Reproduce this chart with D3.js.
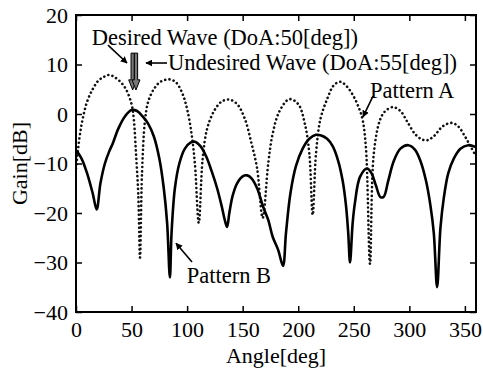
<!DOCTYPE html>
<html>
<head>
<meta charset="utf-8">
<script src="https://cdn.jsdelivr.net/npm/d3@7"></script>
<style>
    body { margin: 0; background: #fff; }
    svg { display: block; }
    text { font-family: "Liberation Serif", "Times New Roman", serif; fill: #000; }
</style>
</head>
<body>
<div id="chart"></div>
<script>
// Pattern A (dotted)
const patternAAngle = [0, 3, 6, 10, 15, 20, 25, 30, 35, 40, 45, 50, 52, 54, 56, 57.6, 59.4, 62, 65, 70, 76, 84, 90, 96,
    100, 104, 107, 110.5, 114, 118, 124, 131, 138, 145, 152, 158, 163, 168, 173, 177, 183, 192, 200, 206, 210, 213,
    216, 220, 226, 232, 238, 244, 250, 255, 258, 261, 264.6, 268, 273.6, 278, 285, 292, 298, 305, 311, 316, 322, 330,
    338, 344, 350, 355, 360];
const patternAGain = [-11, -5, -1, 2.5, 5, 6.7, 7.5, 7.9, 7.4, 6.5, 5, 2, -1, -8, -16, -29, -12, -1.5, 2.5, 5, 6.5, 7, 6.4, 4,
    1, -4, -10, -22, -9, -3, 0.5, 2.5, 2.9, 2, -1, -6, -11, -21, -10, -4, 0.5, 3, 2, -2, -8, -20.4,
    -8, -1, 3, 5.8, 6.5, 5.5, 3.5, 1, -1.2, -7, -30.3, -8, -1.2, 0.5, 1.4, 0.6, -1.5, -4, -5.1, -5.3, -4.5, -2.5,
    -1.8, -2.5, -4.5, -6.5, -8.5];

// Pattern B (solid)
const patternBAngle = [0, 5, 10, 15, 18.6, 22, 26, 30, 33, 38, 44, 50, 55, 60, 65, 70, 75, 79, 82, 84.5, 86, 89, 93, 98,
    103, 107, 112, 117, 122, 127, 131, 134, 136, 138, 141, 145, 150, 154, 158, 163, 168.5, 173, 177, 182, 186.3,
    189, 193, 198, 204, 210, 216, 220, 226, 231, 236, 240, 243, 245, 246.6, 249, 251, 255.6, 262, 266, 270, 274,
    277, 281, 286, 292, 299, 305, 310, 315, 319, 322, 325, 328, 331, 335, 340, 346, 353, 360];
const patternBGain = [-7.3, -9, -12, -16, -19.3, -14, -10, -7.5, -6, -3, -0.5, 0.8, 0.6, -0.5, -2, -4.5, -9, -15, -22, -33, -24, -15, -10, -7,
    -5.8, -5.6, -6.5, -8.5, -11.5, -15, -18.5, -21.5, -22.8, -20, -16.5, -14, -12.6, -12.4, -13, -15, -18.8, -21.4, -24.8, -27.5, -30.7,
    -24, -16, -10.5, -7, -5, -4.2, -4.3, -5, -6.5, -9.5, -13.5, -18.5, -24, -30, -22, -18, -12.7, -11, -12, -14.5, -16.8,
    -16.7, -13.5, -9.5, -7, -6.3, -7.2, -9.5, -13.5, -18.5, -24, -35, -23, -17, -12, -9, -7, -6.3, -6.7];

const xTicks = [0, 50, 100, 150, 200, 250, 300, 350];
const yTicks = [-40, -30, -20, -10, 0, 10, 20];

const width = 483;
const height = 372;
const margin = { top: 15, right: 7, bottom: 60, left: 76 };

const svg = d3.select('#chart')
    .append('svg')
    .attr('width', width)
    .attr('height', height);

const x = d3.scaleLinear().domain([0, 360]).range([margin.left, width - margin.right]);
const y = d3.scaleLinear().domain([-40, 20]).range([height - margin.bottom, margin.top]);

// clip so curves stay inside the frame
svg.append('defs').append('clipPath').attr('id', 'plot-clip')
    .append('rect')
    .attr('x', margin.left).attr('y', margin.top)
    .attr('width', x(360) - x(0)).attr('height', y(-40) - y(20));

const lineGen = d3.line()
    .x(d => x(d[0]))
    .y(d => y(d[1]))
    .curve(d3.curveCatmullRom.alpha(0.5));

const plot = svg.append('g').attr('clip-path', 'url(#plot-clip)');

plot.append('path')
    .datum(d3.zip(patternAAngle, patternAGain))
    .attr('d', lineGen)
    .attr('fill', 'none')
    .attr('stroke', '#111')
    .attr('stroke-width', 2.6)
    .attr('stroke-linecap', 'round')
    .attr('stroke-dasharray', '0.1,4.2');

plot.append('path')
    .datum(d3.zip(patternBAngle, patternBGain))
    .attr('d', lineGen)
    .attr('fill', 'none')
    .attr('stroke', '#000')
    .attr('stroke-width', 2.6)
    .attr('stroke-linejoin', 'round');

// axes with inward ticks on all four sides
const tickLen = 6;
svg.append('g')
    .attr('transform', `translate(0,${y(-40)})`)
    .call(d3.axisBottom(x).tickValues(xTicks).tickSizeInner(-tickLen).tickSizeOuter(0).tickPadding(9));
svg.append('g')
    .attr('transform', `translate(0,${y(20)})`)
    .call(d3.axisTop(x).tickValues(xTicks).tickSizeInner(-tickLen).tickSizeOuter(0).tickFormat(''));
svg.append('g')
    .attr('transform', `translate(${x(0)},0)`)
    .call(d3.axisLeft(y).tickValues(yTicks).tickSizeInner(-tickLen).tickSizeOuter(0).tickPadding(8));
svg.append('g')
    .attr('transform', `translate(${x(360)},0)`)
    .call(d3.axisRight(y).tickValues(yTicks).tickSizeInner(-tickLen).tickSizeOuter(0).tickFormat(''));

svg.selectAll('.domain').attr('stroke', 'none');
svg.selectAll('.tick line').attr('stroke', '#000').attr('stroke-width', 1.5);
svg.selectAll('.tick text')
    .attr('font-family', '"Liberation Serif", serif')
    .attr('font-size', 22)
    .attr('fill', '#000');

// frame
svg.append('rect')
    .attr('x', x(0)).attr('y', y(20))
    .attr('width', x(360) - x(0)).attr('height', y(-40) - y(20))
    .attr('fill', 'none')
    .attr('stroke', '#000')
    .attr('stroke-width', 2);

// axis titles
svg.append('text')
    .attr('x', (x(0) + x(360)) / 2)
    .attr('y', 363)
    .attr('text-anchor', 'middle')
    .attr('font-size', 22)
    .text('Angle[deg]');

svg.append('text')
    .attr('transform', `translate(27,${(y(20) + y(-40)) / 2}) rotate(-90)`)
    .attr('text-anchor', 'middle')
    .attr('font-size', 22)
    .text('Gain[dB]');

// annotations (placed in data units)
const marker = svg.append('defs').append('marker')
    .attr('id', 'head')
    .attr('viewBox', '0 0 10 10')
    .attr('refX', 9).attr('refY', 5)
    .attr('markerWidth', 7).attr('markerHeight', 7)
    .attr('markerUnits', 'userSpaceOnUse')
    .attr('orient', 'auto');
marker.append('path').attr('d', 'M0,0L10,5L0,10z').attr('fill', '#000');

function arrow(a0, g0, a1, g1) {
    svg.append('line')
        .attr('x1', x(a0)).attr('y1', y(g0))
        .attr('x2', x(a1)).attr('y2', y(g1))
        .attr('stroke', '#000')
        .attr('stroke-width', 1.6)
        .attr('marker-end', 'url(#head)');
}

function label(a, g, txt) {
    svg.append('text')
        .attr('x', x(a)).attr('y', y(g))
        .attr('font-size', 22.5)
        .text(txt);
}

label(14.1, 13.9, 'Desired Wave (DoA:50[deg])');
label(82.8, 8.9, 'Undesired Wave (DoA:55[deg])');
label(264.6, 3.2, 'Pattern A');
label(99.6, -34.1, 'Pattern B');

arrow(28.8, 13.9, 45.9, 10.3);
arrow(81.9, 10.3, 63, 10.3);
arrow(267.3, 3.6, 258.3, -0.6);
arrow(104.4, -29.9, 90, -26.1);

// hollow DoA arrows for the desired (50) and undesired (55) waves
const doaAngles = [50, 55];
const mid = (x(doaAngles[0]) + x(doaAngles[1])) / 2;
const shaftW = 3.3;
doaAngles.forEach((a, i) => {
    const cx = i === 0 ? mid - shaftW / 2 : mid + shaftW / 2;
    const top = y(12.3), neck = y(6.9), tip = y(4.85);
    const path = d3.path();
    path.moveTo(cx - shaftW / 2, top);
    path.lineTo(cx + shaftW / 2, top);
    path.lineTo(cx + shaftW / 2, neck);
    path.lineTo(cx + 4, neck);
    path.lineTo(cx, tip);
    path.lineTo(cx - 4, neck);
    path.lineTo(cx - shaftW / 2, neck);
    path.closePath();
    svg.append('path')
        .attr('d', path.toString())
        .attr('fill', '#777')
        .attr('stroke', '#000')
        .attr('stroke-width', 1);
});
</script>
</body>
</html>
